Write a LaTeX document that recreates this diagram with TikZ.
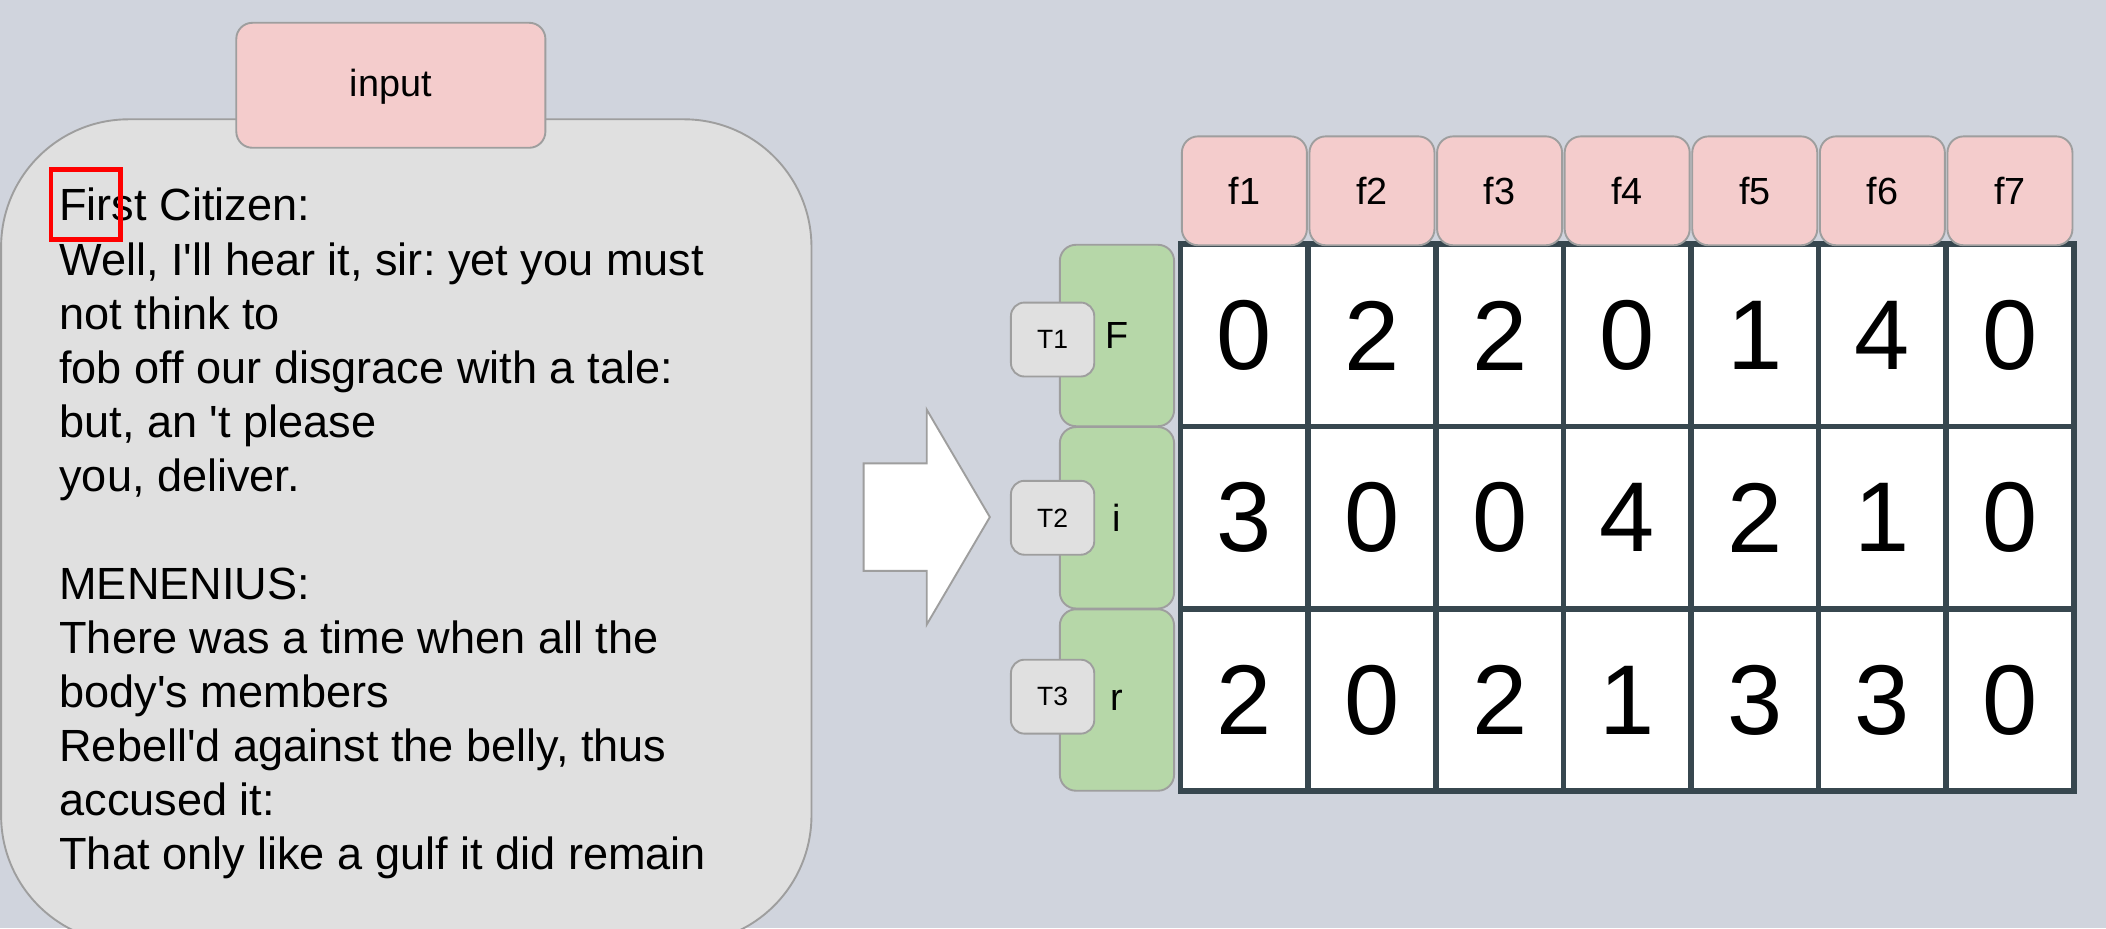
\documentclass[tikz,border=0pt]{standalone}
\usepackage{fontspec}
\setmainfont{Liberation Sans}[Ligatures=TeXOff]
\usetikzlibrary{positioning}
\frenchspacing
\definecolor{bgslate}{RGB}{208,212,221}
\definecolor{boxgray}{RGB}{224,224,224}
\definecolor{edgegray}{RGB}{158,158,158}
\definecolor{hdrpink}{RGB}{244,204,204}
\definecolor{rowgreen}{RGB}{182,215,168}
\definecolor{gridslate}{RGB}{55,71,79}

\begin{document}
\begin{tikzpicture}[
    x=0.01cm, y=-0.01cm,
    textbox/.style={draw=edgegray, fill=boxgray, rounded corners=0.95cm, minimum width=6.03cm, minimum height=6.13cm},
    pinkbox/.style={draw=edgegray, fill=hdrpink, rounded corners=0.12cm, inner sep=0pt, font=\fontsize{8}{9.6}\selectfont},
    hdr/.style={pinkbox, minimum width=0.93cm, minimum height=0.81cm},
    rowlab/.style={draw=edgegray, fill=rowgreen, rounded corners=0.12cm, minimum width=0.85cm, minimum height=1.35cm, inner sep=0pt, font=\fontsize{8}{9.6}\selectfont},
    tok/.style={draw=edgegray, fill=boxgray, rounded corners=0.1cm, minimum width=0.62cm, minimum height=0.55cm, inner sep=0pt, font=\fontsize{5.6}{6.7}\selectfont},
    cell/.style={draw=gridslate, fill=white, line width=1.2pt, minimum width=0.95cm, minimum height=1.357cm, inner sep=0pt, font=\fontsize{21}{25}\selectfont}
  ]
    \useasboundingbox (0,0) rectangle (1568,691);
    \clip (0,0) rectangle (1568,691);
    \fill[bgslate] (0,0) rectangle (1568,691);

    % input text
    \node[textbox] (source) at (302.5,395.5) {};
    \node[pinkbox, minimum width=2.30cm, minimum height=0.93cm, text height=1.2ex] (input) at (291,63.5) {input};
    \node[anchor=north west, align=left, inner sep=0pt, font=\fontsize{9.55}{11.45}\selectfont] (speech) at (43.5,139.5)
      {First Citizen:\\Well, I'll hear it, sir: yet you must\\not think to\\fob off our disgrace with a tale:\\but, an 't please\\you, deliver.\\[11.45pt]MENENIUS:\\There was a time when all the\\body's members\\Rebell'd against the belly, thus\\accused it:\\That only like a gulf it did remain};
    \node[draw=red, line width=1.05pt, minimum width=0.52cm, minimum height=0.52cm, inner sep=0pt] (cursor) at (64,152) {};

    % big arrow
    \draw[edgegray, fill=white] (643,345) -- (690,345) -- (690,305) -- (737,385) -- (690,465) -- (690,425) -- (643,425) -- cycle;

    % count table
    \foreach \vals [count=\r] in {{0,2,2,0,1,4,0},{3,0,0,4,2,1,0},{2,0,2,1,3,3,0}} {
      \foreach \v [count=\c] in \vals {
        \node[cell] (c\r-\c) at ({831.5+95*\c},{114.1+135.7*\r}) {\v};
      }
    }
    \foreach \c in {1,...,7}
      \node[hdr, above=-0.035cm of c1-\c] (f\c) {f\c};

    \node[rowlab, left=0.02cm of c1-1] (w1) {F};
    \node[rowlab, left=0.02cm of c2-1] (w2) {i};
    \node[rowlab, left=0.02cm of c3-1] (w3) {r};
    \node[tok, left=-0.27cm of w1, yshift=-0.03cm] (t1) {T1};
    \node[tok, left=-0.27cm of w2] (t2) {T2};
    \node[tok, left=-0.27cm of w3, yshift=0.025cm] (t3) {T3};
  \end{tikzpicture}
\end{document}
